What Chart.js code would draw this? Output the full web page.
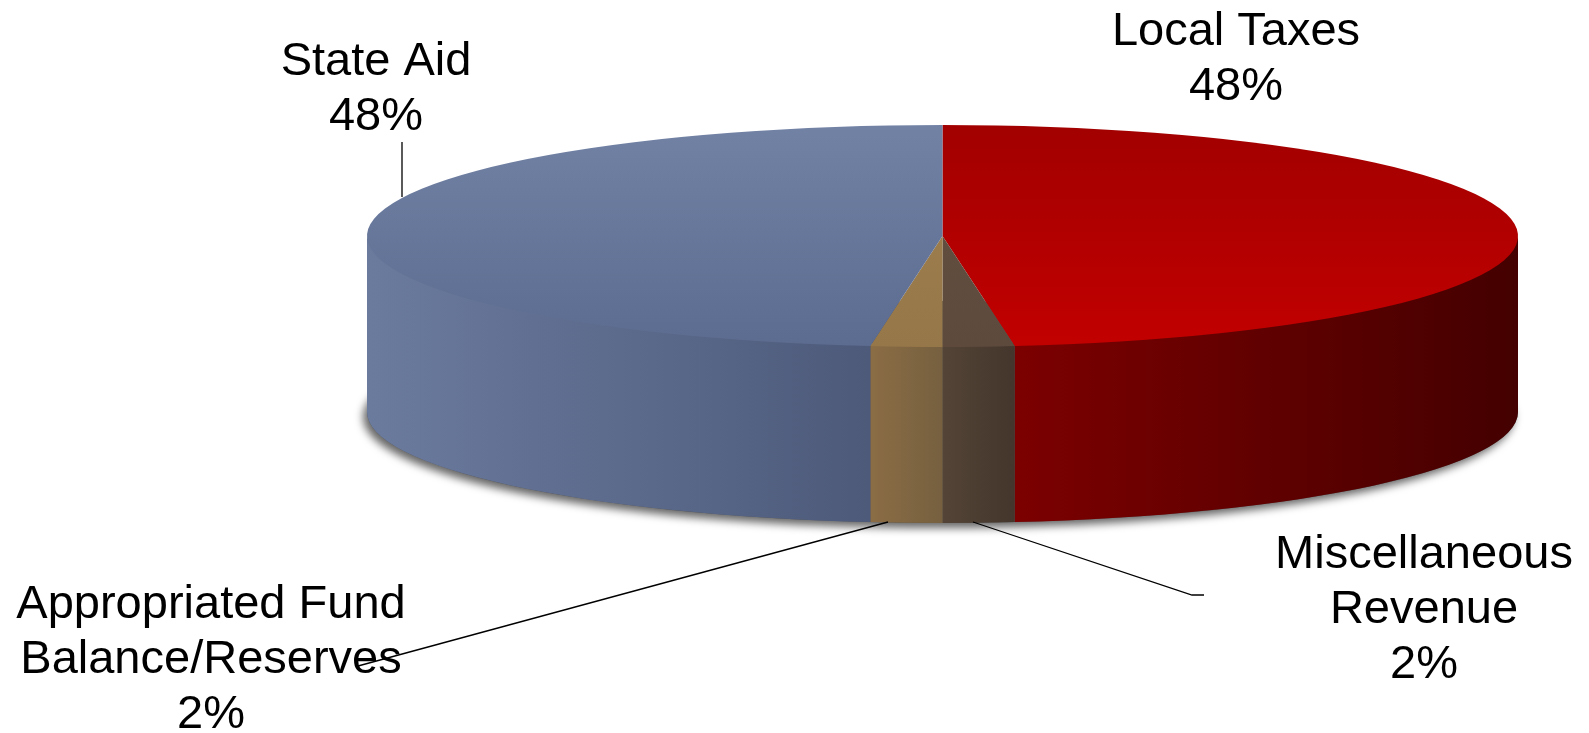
<!DOCTYPE html>
<html>
<head>
<meta charset="utf-8">
<title>Revenue sources</title>
<script src="https://cdn.jsdelivr.net/npm/chart.js"></script>
<style>
  html, body { margin: 0; padding: 0; background: #fff; }
  #wrap { width: 1589px; height: 733px; }
</style>
</head>
<body>
<div id="wrap"><canvas id="pie-chart" width="1589" height="733"></canvas></div>
<script>
// data, clockwise from 12 o'clock
const categories = [["Local Taxes"], ["Miscellaneous", "Revenue"], ["Appropriated Fund", "Balance/Reserves"], ["State Aid"]];
const shares = [48, 2, 2, 48];

// colours: top face (top -> bottom) and side wall (left -> right)
const topColors = [["#a20000", "#c20000"], ["#66513f", "#5d4a3d"], ["#a1814e", "#967749"], ["#7282a5", "#5c6c90"]];
const sideColors = [["#7c0000", "#440000"], ["#544437", "#44362c"], ["#8b6d45", "#76603f"], ["#6b7b9e", "#4d5a7a"]];

// where the flattened pie sits on the page
const P = { cx: 942.5, cy: 236, rx: 575.5, ry: 111, depth: 176 };

// label text anchors (centre x, first baseline) and leader lines
const labelPos = [{ x: 1236, y: 45 }, { x: 1424, y: 568 }, { x: 211, y: 618 }, { x: 376, y: 75 }];
const leaders = [null, [[973, 522], [1192, 595], [1204, 595]], [[888, 522], [358, 666]], [[402, 142], [402, 197]]];

const pie3d = {
    id: 'pie3d',
    beforeDatasetsDraw(chart) {
        const ctx = chart.ctx;
        const arcs = chart.getDatasetMeta(0).data;
        // soft shadow under the disc
        ctx.save();
        ctx.shadowColor = 'rgba(0,0,0,0.6)';
        ctx.shadowBlur = 9;
        ctx.shadowOffsetY = 5;
        ctx.shadowOffsetX = -4;
        ctx.fillStyle = '#555';
        ctx.beginPath();
        ctx.ellipse(P.cx, P.cy + P.depth, P.rx, P.ry, 0, 0, 2 * Math.PI);
        ctx.fill();
        ctx.restore();
        // front walls of each slice
        arcs.forEach((arc, i) => {
            const a = Math.max(arc.startAngle, 0);
            const b = Math.min(arc.endAngle, Math.PI);
            if (a >= b) return;
            const xl = P.cx + P.rx * Math.cos(b);
            const xr = P.cx + P.rx * Math.cos(a);
            const g = ctx.createLinearGradient(xl, 0, xr, 0);
            g.addColorStop(0, sideColors[i][0]);
            g.addColorStop(1, sideColors[i][1]);
            ctx.beginPath();
            ctx.ellipse(P.cx, P.cy - 3, P.rx, P.ry, 0, a, b);
            ctx.ellipse(P.cx, P.cy + P.depth, P.rx, P.ry, 0, b, a, true);
            ctx.closePath();
            ctx.fillStyle = g;
            ctx.fill();
        });
    },
    beforeDatasetDraw(chart) {
        const arc = chart.getDatasetMeta(0).data[0];
        const ctx = chart.ctx;
        ctx.save();
        ctx.translate(P.cx, P.cy);
        ctx.scale(P.rx / arc.outerRadius, P.ry / arc.outerRadius);
        ctx.translate(-arc.x, -arc.y);
    },
    afterDatasetDraw(chart) {
        chart.ctx.restore();
    },
    afterDraw(chart) {
        const ctx = chart.ctx;
        const total = shares.reduce((s, v) => s + v, 0);
        ctx.save();
        ctx.strokeStyle = '#000';
        ctx.lineWidth = 1.3;
        leaders.forEach(pts => {
            if (!pts) return;
            ctx.beginPath();
            pts.forEach((p, k) => k ? ctx.lineTo(p[0], p[1]) : ctx.moveTo(p[0], p[1]));
            ctx.stroke();
        });
        ctx.fillStyle = '#000';
        ctx.font = '47px "Liberation Sans", Arial, sans-serif';
        ctx.textAlign = 'center';
        ctx.textBaseline = 'alphabetic';
        categories.forEach((lines, i) => {
            const all = lines.concat([Math.round(shares[i] / total * 100) + '%']);
            all.forEach((t, k) => ctx.fillText(t, labelPos[i].x, labelPos[i].y + k * 55));
        });
        ctx.restore();
    }
};

new Chart(document.getElementById("pie-chart"), {
    type: 'pie',
    data: {
        labels: categories,
        datasets: [
            {
                data: shares,
                borderWidth: 0,
                hoverOffset: 0,
                clip: false,
                backgroundColor: (c) => {
                    const ca = c.chart.chartArea;
                    const cols = topColors[c.dataIndex];
                    if (!ca) return cols[0];
                    const g = c.chart.ctx.createLinearGradient(0, ca.top, 0, ca.bottom);
                    g.addColorStop(0, cols[0]);
                    g.addColorStop(1, cols[1]);
                    return g;
                }
            }
        ]
    },
    options: {
        responsive: false,
        animation: false,
        events: [],
        plugins: {
            legend: { display: false },
            tooltip: { enabled: false },
            title: { display: false }
        }
    },
    plugins: [pie3d]
});
</script>
</body>
</html>
